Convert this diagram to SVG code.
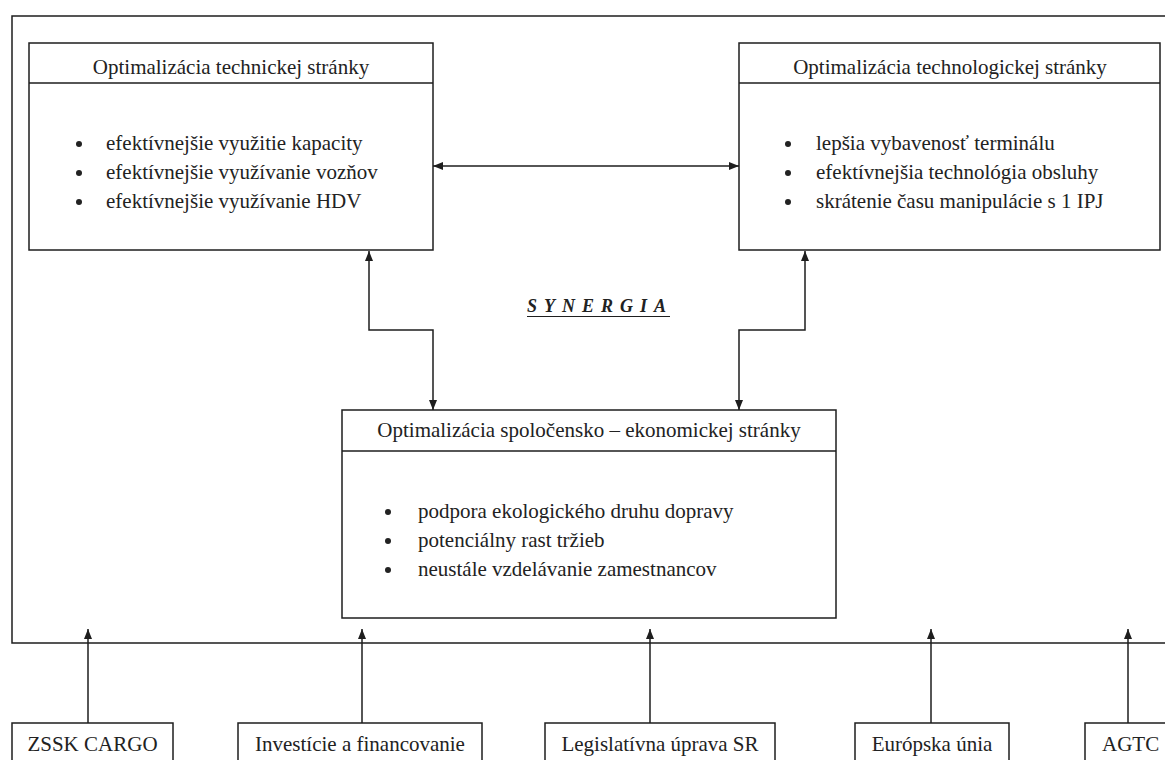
<svg xmlns="http://www.w3.org/2000/svg" width="1165" height="760" viewBox="0 0 1165 760">
<style>
  .box { fill: #fff; stroke: #1e1e1e; stroke-width: 1.5; }
  .ln { fill: none; stroke: #1e1e1e; stroke-width: 1.5; }
  .t { font-family: "Liberation Serif", "Times New Roman", serif; font-size: 21px; fill: #222; }
  .c { text-anchor: middle; }
  .syn { font-family: "Liberation Serif", "Times New Roman", serif; font-size: 18px; font-style: italic; font-weight: bold; letter-spacing: 7px; fill: #222; }
  .dot { fill: #222; }
</style>
<defs>
  <marker id="ah" viewBox="0 0 10 8" refX="10" refY="4" markerWidth="10" markerHeight="8" markerUnits="userSpaceOnUse" orient="auto-start-reverse">
    <path d="M0,0 L10,4 L0,8 z" fill="#1e1e1e"/>
  </marker>
</defs>
<rect width="1165" height="760" fill="#fff"/>

<g id="frame">
  <path class="ln" d="M1166,16 L12,16 L12,643 L1166,643"/>
</g>

<g id="connectors">
  <line class="ln" x1="433" y1="166" x2="739" y2="166" marker-start="url(#ah)" marker-end="url(#ah)"/>
  <path class="ln" d="M369,251 L369,330 L433,330 L433,410" marker-start="url(#ah)" marker-end="url(#ah)"/>
  <path class="ln" d="M805,251 L805,330 L739,330 L739,410" marker-start="url(#ah)" marker-end="url(#ah)"/>
  <line class="ln" x1="88" y1="723" x2="88" y2="629" marker-end="url(#ah)"/>
  <line class="ln" x1="362" y1="723" x2="362" y2="629" marker-end="url(#ah)"/>
  <line class="ln" x1="650" y1="723" x2="650" y2="629" marker-end="url(#ah)"/>
  <line class="ln" x1="931" y1="723" x2="931" y2="629" marker-end="url(#ah)"/>
  <line class="ln" x1="1128" y1="723" x2="1128" y2="629" marker-end="url(#ah)"/>
</g>

<g id="technicka">
  <rect class="box" x="29" y="43" width="404" height="207"/>
  <line class="ln" x1="29" y1="83" x2="433" y2="83"/>
  <text class="t c" x="231" y="74">Optimalizácia technickej stránky</text>
  <circle class="dot" cx="79" cy="144" r="3"/>
  <circle class="dot" cx="79" cy="173" r="3"/>
  <circle class="dot" cx="79" cy="202" r="3"/>
  <text class="t" x="106" y="150">efektívnejšie využitie kapacity</text>
  <text class="t" x="106" y="179">efektívnejšie využívanie vozňov</text>
  <text class="t" x="106" y="208">efektívnejšie využívanie HDV</text>
</g>

<g id="technologicka">
  <rect class="box" x="739" y="43" width="421" height="207"/>
  <line class="ln" x1="739" y1="83" x2="1160" y2="83"/>
  <text class="t c" x="950" y="74">Optimalizácia technologickej stránky</text>
  <circle class="dot" cx="788" cy="144" r="3"/>
  <circle class="dot" cx="788" cy="173" r="3"/>
  <circle class="dot" cx="788" cy="202" r="3"/>
  <text class="t" x="816" y="150">lepšia vybavenosť terminálu</text>
  <text class="t" x="816" y="179">efektívnejšia technológia obsluhy</text>
  <text class="t" x="816" y="208">skrátenie času manipulácie s 1 IPJ</text>
</g>

<g id="synergia">
  <text class="syn" x="527" y="312">SYNERGIA</text>
  <line class="ln" x1="527" y1="316.5" x2="670" y2="316.5" style="stroke-width:1.2"/>
</g>

<g id="spolocensko">
  <rect class="box" x="342" y="410" width="494" height="208"/>
  <line class="ln" x1="342" y1="451" x2="836" y2="451"/>
  <text class="t c" x="589" y="437">Optimalizácia spoločensko – ekonomickej stránky</text>
  <circle class="dot" cx="388" cy="512" r="3"/>
  <circle class="dot" cx="388" cy="541" r="3"/>
  <circle class="dot" cx="388" cy="570" r="3"/>
  <text class="t" x="418" y="518">podpora ekologického druhu dopravy</text>
  <text class="t" x="418" y="547">potenciálny rast tržieb</text>
  <text class="t" x="418" y="576">neustále vzdelávanie zamestnancov</text>
</g>

<g id="zssk">
  <rect class="box" x="12" y="723" width="161" height="60"/>
  <text class="t c" x="92.5" y="751">ZSSK CARGO</text>
</g>
<g id="investicie">
  <rect class="box" x="238" y="723" width="244" height="60"/>
  <text class="t c" x="360" y="751">Investície a financovanie</text>
</g>
<g id="legislativa">
  <rect class="box" x="545" y="723" width="230" height="60"/>
  <text class="t c" x="660" y="751">Legislatívna úprava SR</text>
</g>
<g id="eu">
  <rect class="box" x="855" y="723" width="154" height="60"/>
  <text class="t c" x="932" y="751">Európska únia</text>
</g>
<g id="agtc">
  <rect class="box" x="1085" y="723" width="100" height="60"/>
  <text class="t" x="1102" y="751">AGTC</text>
</g>
</svg>
